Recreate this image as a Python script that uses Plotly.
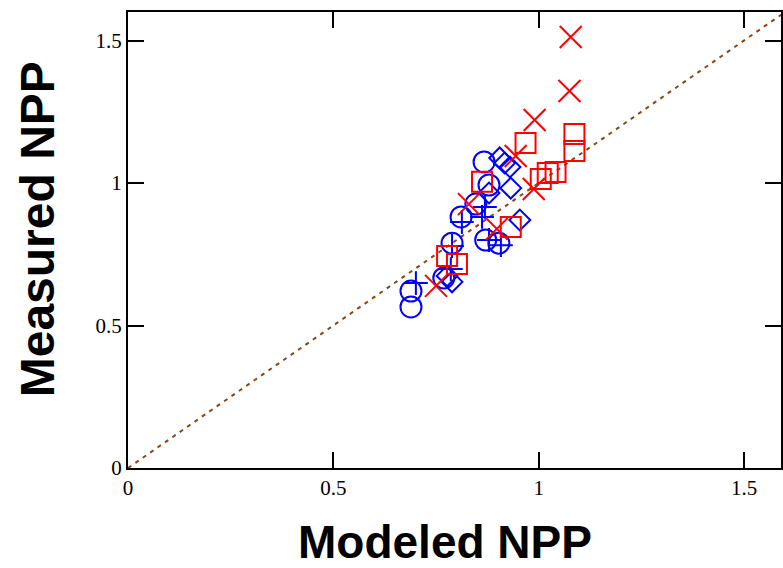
import plotly.graph_objects as go

# Modeled vs measured NPP, grouped by site type
red_x_modeled = [1.078, 1.075, 0.990, 0.944, 0.988, 0.830, 0.898, 0.750]
red_x_measured = [1.512, 1.323, 1.221, 1.095, 0.979, 0.926, 0.839, 0.639]

red_sq_modeled = [0.968, 1.087, 1.087, 0.862, 1.005, 1.022, 1.041, 0.932, 0.777, 0.801]
red_sq_measured = [1.140, 1.172, 1.112, 1.004, 1.014, 1.035, 1.039, 0.846, 0.744, 0.716]

blue_circ_modeled = [0.867, 0.879, 0.847, 0.811, 0.789, 0.871, 0.903, 0.769, 0.689, 0.689]
blue_circ_measured = [1.074, 0.993, 0.926, 0.881, 0.789, 0.800, 0.789, 0.667, 0.621, 0.565]

blue_plus_modeled = [0.701, 0.786, 0.813, 0.862, 0.869, 0.879, 0.908, 0.789]
blue_plus_measured = [0.649, 0.698, 0.863, 0.881, 0.916, 0.800, 0.782, 0.779]

blue_dia_modeled = [0.905, 0.917, 0.930, 0.932, 0.954, 0.879, 0.777, 0.789]
blue_dia_measured = [1.088, 1.070, 1.056, 0.982, 0.870, 0.965, 0.674, 0.653]

one_to_one = [0, 1.6]

tick_vals = [0, 0.5, 1, 1.5]
tick_text = ["0", "0.5", "1", "1.5"]

RED = "#ff0000"
BLUE = "#0000ff"

fig = go.Figure()

fig.add_trace(go.Scatter(
    x=one_to_one, y=one_to_one, mode="lines",
    line=dict(color="#8B4513", width=2, dash="4px,5px"),
    hoverinfo="skip", showlegend=False,
))

series = [
    (blue_circ_modeled, blue_circ_measured, "circle-open", 21, BLUE),
    (blue_dia_modeled, blue_dia_measured, "diamond-open", 16, BLUE),
    (blue_plus_modeled, blue_plus_measured, "cross-thin-open", 17, BLUE),
    (red_sq_modeled, red_sq_measured, "square-open", 20, RED),
    (red_x_modeled, red_x_measured, "x-thin-open", 22, RED),
]
for xs, ys, sym, size, col in series:
    fig.add_trace(go.Scatter(
        x=xs, y=ys, mode="markers", showlegend=False,
        marker=dict(symbol=sym, size=size, color=col,
                    line=dict(color=col, width=2)),
    ))

axis_common = dict(
    showgrid=False, zeroline=False, showline=True, linecolor="black",
    linewidth=2, mirror="ticks", ticks="inside", ticklen=16, tickwidth=2,
    tickcolor="black", tickvals=tick_vals, ticktext=tick_text,
    tickfont=dict(family="Liberation Serif", size=21, color="black"),
)

fig.update_xaxes(range=[0, 1.59], **axis_common)
fig.update_yaxes(range=[0, 1.6], **axis_common)

fig.update_layout(
    width=783, height=568,
    margin=dict(l=128, r=0, t=12, b=100),
    plot_bgcolor="white", paper_bgcolor="white",
    annotations=[
        dict(text="<b>Modeled NPP</b>", xref="paper", yref="paper",
             x=0.4855, y=-0.163, xanchor="center", yanchor="middle",
             showarrow=False,
             font=dict(family="Liberation Sans", size=46, color="black")),
        dict(text="<b>Measured NPP</b>", xref="paper", yref="paper",
             x=-0.139, y=0.524, xanchor="center", yanchor="middle",
             textangle=-90, showarrow=False,
             font=dict(family="Liberation Sans", size=48, color="black")),
    ],
)

fig.write_html("out.html")
